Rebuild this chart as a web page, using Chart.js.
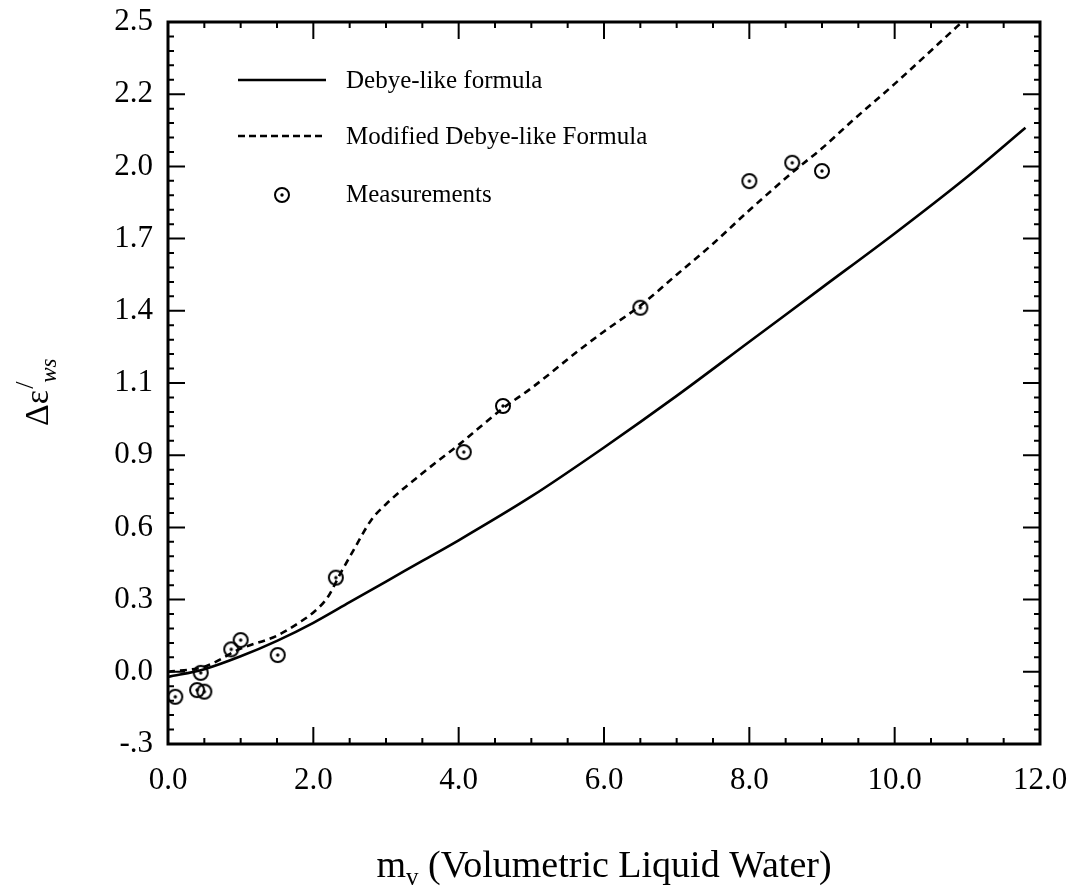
<!DOCTYPE html>
<html>
<head>
<meta charset="utf-8">
<script src="https://cdn.jsdelivr.net/npm/chart.js@4.4.0/dist/chart.umd.min.js"></script>
<style>
  html, body { margin: 0; padding: 0; background: #fff; }
  #wrap { width: 1074px; height: 895px; }
</style>
</head>
<body>
<div id="wrap"><canvas id="chart" width="1074" height="895"></canvas></div>
<script>
// Values
const debyeX = [0, 0.5, 1.0, 1.5, 2.0, 2.5, 3.0, 3.5, 4.0, 5.0, 6.0, 7.0, 8.0, 9.0, 10.0, 11.0, 11.8];
const debyeY = [-0.04, -0.01, 0.04, 0.10, 0.17, 0.25, 0.33, 0.41, 0.49, 0.66, 0.85, 1.05, 1.26, 1.47, 1.68, 1.90, 2.09];

const modX = [0, 0.5, 1.0, 1.5, 1.8, 2.0, 2.2, 2.37, 2.55, 2.8, 3.0, 3.5, 4.0, 4.6, 5.0, 5.67, 6.0, 6.5, 7.0, 7.5, 8.0, 8.65, 9.0, 9.43, 10.0, 10.85, 11.2];
const modY = [-0.02, 0.0, 0.07, 0.12, 0.17, 0.21, 0.27, 0.36, 0.45, 0.57, 0.63, 0.75, 0.86, 1.0, 1.08, 1.23, 1.30, 1.40, 1.52, 1.64, 1.77, 1.93, 2.01, 2.12, 2.26, 2.48, 2.57];

const measX = [0.10, 0.40, 0.50, 0.45, 0.87, 1.00, 1.51, 2.31, 4.07, 4.61, 6.50, 8.00, 8.59, 9.00];
const measY = [-0.117, -0.091, -0.097, -0.024, 0.067, 0.103, 0.045, 0.345, 0.832, 1.011, 1.392, 1.883, 1.954, 1.922];

const xTickValues = [0, 2, 4, 6, 8, 10, 12];
const xTickLabels = ['0.0', '2.0', '4.0', '6.0', '8.0', '10.0', '12.0'];
const yTickValues = [-0.3, -0.02, 0.26, 0.54, 0.82, 1.10, 1.38, 1.66, 1.94, 2.22, 2.5];
const yTickLabels = ['-.3', '0.0', '0.3', '0.6', '0.9', '1.1', '1.4', '1.7', '2.0', '2.2', '2.5'];

const legendLabels = ['Debye-like formula', 'Modified Debye-like Formula', 'Measurements'];

const FONT = '"Liberation Serif", "Times New Roman", serif';

// circle-with-dot marker used for the measurements
function makeMarker() {
    const c = document.createElement('canvas');
    c.width = 20;
    c.height = 20;
    const g = c.getContext('2d');
    g.strokeStyle = '#000';
    g.lineWidth = 2;
    g.beginPath();
    g.arc(10, 10, 7, 0, Math.PI * 2);
    g.stroke();
    g.fillStyle = '#000';
    g.beginPath();
    g.arc(10, 10, 1.7, 0, Math.PI * 2);
    g.fill();
    return c;
}
const marker = makeMarker();

function pairs(xs, ys) {
    return xs.map((v, i) => ({ x: v, y: ys[i] }));
}

// frame, inward ticks, in-plot legend and axis titles
const decorations = {
    id: 'decorations',
    afterDraw(chart) {
        const { ctx, chartArea: a, scales: { x, y } } = chart;
        ctx.save();
        ctx.strokeStyle = '#000';
        ctx.lineCap = 'butt';

        // ticks
        ctx.lineWidth = 2;
        const major = 17, minor = 6;
        ctx.beginPath();
        xTickValues.forEach((v, i) => {
            const px = x.getPixelForValue(v);
            ctx.moveTo(px, a.bottom); ctx.lineTo(px, a.bottom - major);
            ctx.moveTo(px, a.top); ctx.lineTo(px, a.top + major);
            if (i < xTickValues.length - 1) {
                const nx = x.getPixelForValue(xTickValues[i + 1]);
                for (let k = 1; k < 4; k++) {
                    const mx = px + (nx - px) * k / 4;
                    ctx.moveTo(mx, a.bottom); ctx.lineTo(mx, a.bottom - minor);
                    ctx.moveTo(mx, a.top); ctx.lineTo(mx, a.top + minor);
                }
            }
        });
        yTickValues.forEach((v, i) => {
            const py = y.getPixelForValue(v);
            ctx.moveTo(a.left, py); ctx.lineTo(a.left + major, py);
            ctx.moveTo(a.right, py); ctx.lineTo(a.right - major, py);
            if (i < yTickValues.length - 1) {
                const ny = y.getPixelForValue(yTickValues[i + 1]);
                for (let k = 1; k < 5; k++) {
                    const my = py + (ny - py) * k / 5;
                    ctx.moveTo(a.left, my); ctx.lineTo(a.left + minor, my);
                    ctx.moveTo(a.right, my); ctx.lineTo(a.right - minor, my);
                }
            }
        });
        ctx.stroke();

        // frame
        ctx.lineWidth = 3;
        ctx.strokeRect(a.left, a.top, a.right - a.left, a.bottom - a.top);

        // legend
        ctx.fillStyle = '#000';
        ctx.lineWidth = 2.6;
        ctx.beginPath();
        ctx.moveTo(238, 80); ctx.lineTo(326, 80);
        ctx.stroke();
        ctx.setLineDash([7, 4]);
        ctx.beginPath();
        ctx.moveTo(238, 136); ctx.lineTo(326, 136);
        ctx.stroke();
        ctx.setLineDash([]);
        ctx.drawImage(marker, 282 - 10, 195 - 10);
        ctx.font = '25px ' + FONT;
        ctx.textBaseline = 'middle';
        ctx.textAlign = 'left';
        ctx.fillText(legendLabels[0], 346, 81);
        ctx.fillText(legendLabels[1], 346, 137);
        ctx.fillText(legendLabels[2], 346, 195);

        // x title: m_v (Volumetric Liquid Water)
        ctx.textBaseline = 'alphabetic';
        ctx.font = '38px ' + FONT;
        const mW = ctx.measureText('m').width;
        const restW = ctx.measureText(' (Volumetric Liquid Water)').width;
        ctx.font = '25px ' + FONT;
        const vW = ctx.measureText('v').width;
        let tx = (a.left + a.right) / 2 - (mW + vW + restW) / 2;
        const ty = 877;
        ctx.font = '38px ' + FONT;
        ctx.fillText('m', tx, ty);
        tx += mW;
        ctx.font = '25px ' + FONT;
        ctx.fillText('v', tx, ty + 8);
        tx += vW;
        ctx.font = '38px ' + FONT;
        ctx.fillText(' (Volumetric Liquid Water)', tx, ty);

        // y title: Δε'_ws, rotated
        ctx.translate(48, 426);
        ctx.rotate(-Math.PI / 2);
        ctx.font = '34px ' + FONT;
        ctx.fillText('\u0394\u03b5', 0, 0);
        const dW = ctx.measureText('\u0394\u03b5').width;
        ctx.font = '26px ' + FONT;
        ctx.fillText('/', dW + 1, -15);
        ctx.font = 'italic 23px ' + FONT;
        ctx.fillText('ws', dW + 7, 8);
        ctx.restore();
    }
};

const tickFont = { family: FONT, size: 31 };

new Chart(document.getElementById('chart').getContext('2d'), {
    type: 'scatter',
    data: {
        datasets: [
            {
                label: legendLabels[0],
                data: pairs(debyeX, debyeY),
                showLine: true,
                borderColor: '#000',
                borderWidth: 2.6,
                pointRadius: 0,
                cubicInterpolationMode: 'monotone',
                clip: 0
            },
            {
                label: legendLabels[1],
                data: pairs(modX, modY),
                showLine: true,
                borderColor: '#000',
                borderWidth: 2.6,
                borderDash: [7, 5],
                pointRadius: 0,
                cubicInterpolationMode: 'monotone',
                clip: 0
            },
            {
                label: legendLabels[2],
                data: pairs(measX, measY),
                showLine: false,
                pointStyle: marker,
                pointRadius: 8,
                pointHoverRadius: 8
            }
        ]
    },
    options: {
        responsive: false,
        animation: false,
        events: [],
        layout: { padding: { top: 22, right: 34, left: 0, bottom: 0 } },
        plugins: {
            legend: { display: false },
            tooltip: { enabled: false }
        },
        scales: {
            x: {
                type: 'linear',
                min: 0,
                max: 12,
                afterBuildTicks: s => { s.ticks = xTickValues.map(v => ({ value: v })); },
                afterFit: s => { s.height = 151; s.paddingLeft = 0; s.paddingRight = 0; },
                grid: { display: false, drawTicks: false },
                border: { display: false },
                ticks: {
                    callback: (v, i) => xTickLabels[i],
                    font: tickFont,
                    color: '#000',
                    padding: 18,
                    maxRotation: 0,
                    autoSkip: false
                }
            },
            y: {
                type: 'linear',
                min: -0.3,
                max: 2.5,
                afterBuildTicks: s => { s.ticks = yTickValues.map(v => ({ value: v })); },
                afterFit: s => { s.width = 168; s.paddingTop = 0; s.paddingBottom = 0; },
                grid: { display: false, drawTicks: false },
                border: { display: false },
                ticks: {
                    callback: (v, i) => yTickLabels[i],
                    font: tickFont,
                    color: '#000',
                    padding: 15,
                    autoSkip: false
                }
            }
        }
    },
    plugins: [decorations]
});
</script>
</body>
</html>
